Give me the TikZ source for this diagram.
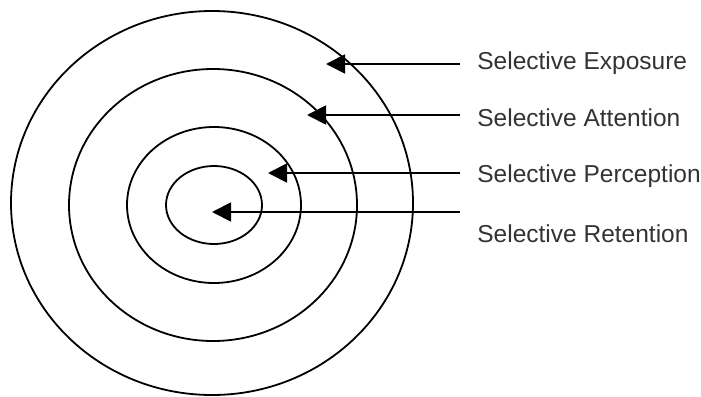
\documentclass[tikz,border=0pt]{standalone}
\usepackage{fontspec}
\setmainfont{Liberation Sans}
\usetikzlibrary{arrows.meta}

\begin{document}
\begin{tikzpicture}[x=0.5pt,y=-0.5pt,font=\fontsize{12.25}{14}\selectfont,
  ring/.style={line width=0.9pt},
  pointer/.style={line width=0.9pt,-{Triangle[length=9.5pt,width=9.5pt]}},
  lbl/.style={anchor=base west,inner sep=0pt,text=black!80}]
  \useasboundingbox (0,0) rectangle (701,396);
  % rings, outer to inner
  \draw[ring] (212,203) ellipse [x radius=201, y radius=192];
  \draw[ring] (213,205) ellipse [x radius=144, y radius=136];
  \draw[ring] (214,205) ellipse [x radius=87, y radius=78];
  \draw[ring] (214,205) ellipse [x radius=48, y radius=39];
  % labels
  \node[lbl] (expo) at (477,69) {Selective Exposure};
  \node[lbl] (atte) at (477,126) {Selective Attention};
  \node[lbl] (perc) at (477,182) {Selective Perception};
  \node[lbl] (rete) at (477,242) {Selective Retention};
  % pointer ends
  \coordinate (expo-out) at (460,64);  \coordinate (expo-in) at (326,64);
  \coordinate (atte-out) at (460,115); \coordinate (atte-in) at (307,115);
  \coordinate (perc-out) at (460,173); \coordinate (perc-in) at (268,173);
  \coordinate (rete-out) at (460,212); \coordinate (rete-in) at (212,212);
  \draw[pointer] (expo-out) -- (expo-in);
  \draw[pointer] (atte-out) -- (atte-in);
  \draw[pointer] (perc-out) -- (perc-in);
  \draw[pointer] (rete-out) -- (rete-in);
\end{tikzpicture}
\end{document}
